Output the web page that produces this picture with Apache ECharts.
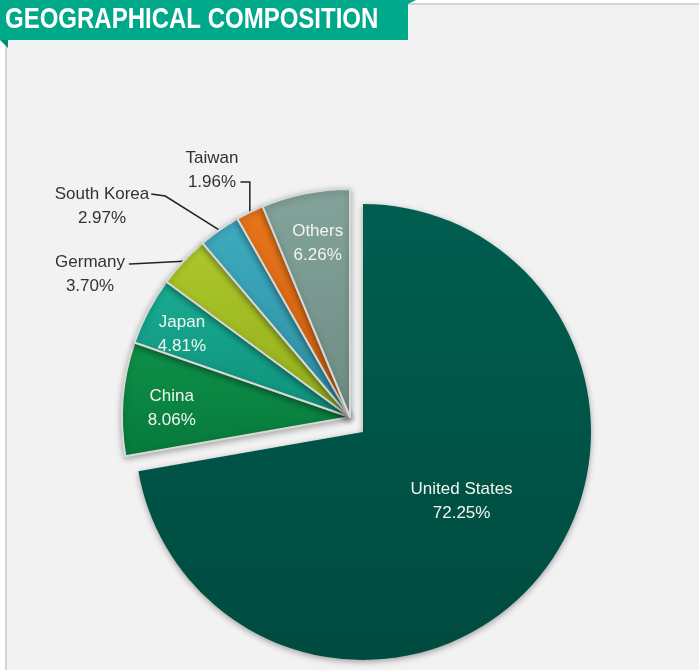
<!DOCTYPE html>
<html>
<head>
<meta charset="utf-8">
<script src="https://cdn.jsdelivr.net/npm/echarts@6/dist/echarts.min.js"></script>
<style>
  html, body { margin: 0; padding: 0; background: #fff; }
  #chart { width: 699px; height: 670px; }
</style>
</head>
<body>
<div id="chart"></div>
<script>
// data
const categories = ['United States', 'China', 'Japan', 'Germany', 'South Korea', 'Taiwan', 'Others']
const shares = [72.25, 8.06, 4.81, 3.70, 2.97, 1.96, 6.26]
const colorsTop = ['#005e50', '#0e9149', '#19ac93', '#adc82b', '#3eabbf', '#e8751b', '#83a39a']
const colorsBottom = ['#004b3f', '#07793b', '#0f907a', '#93ac1c', '#2d8fa2', '#cc5f10', '#6f8c84']
const insideLabels = ['China', 'Japan', 'Others']
const outsideLabels = ['Germany', 'South Korea', 'Taiwan']

const chart = echarts.init(document.getElementById('chart'))

const R = 228
const usCenter = [363, 432]
const groupCenter = [350, 417]
// where the outside labels sit (label centre)
const outsidePos = {
  'Germany': [90, 274],
  'South Korea': [102, 206],
  'Taiwan': [212, 170]
}
// small nudges for the inside labels
const insideNudge = {
  'United States': [9, -6],
  'China': [2, 6],
  'Japan': [-8, 1],
  'Others': [3, 4]
}

function grad(i) {
  return new echarts.graphic.LinearGradient(0, 0, 0, 1, [
    { offset: 0, color: colorsTop[i] },
    { offset: 1, color: colorsBottom[i] }
  ])
}

function fmt(p) {
  return p.name + '\n' + shares[p.dataIndex].toFixed(2) + '%'
}

function nudge(p) {
  const d = insideNudge[categories[p.dataIndex]]
  return d ? { dx: d[0], dy: d[1] } : {}
}

// US slice on its own
const usData = categories.map((name, i) => ({
  name: name,
  value: shares[i],
  itemStyle: i === 0 ? { color: grad(i) } : { color: 'transparent' },
  label: { show: i === 0 }
}))

// the rest, pulled out together
const restData = categories.map((name, i) => ({
  name: name,
  value: shares[i],
  itemStyle: i === 0
    ? { color: 'transparent', borderWidth: 0, shadowBlur: 0 }
    : { color: grad(i) },
  label: { show: outsideLabels.includes(name) },
  labelLine: { show: outsideLabels.includes(name) }
}))

// ring only used to place the inside labels
const ringData = categories.map((name, i) => ({
  name: name,
  value: shares[i],
  itemStyle: { color: 'transparent' },
  label: { show: insideLabels.includes(name) }
}))

const insideLabel = {
  position: 'inside',
  formatter: fmt,
  color: '#f3f6ee',
  fontSize: 17,
  lineHeight: 24,
  fontFamily: '"Liberation Sans", Arial, sans-serif'
}

const option = {
  backgroundColor: '#ffffff',
  animation: false,
  graphic: [
    { type: 'rect', z: -10, shape: { x: 5, y: 3, width: 694, height: 667 }, style: { fill: '#d4d4d4' } },
    { type: 'rect', z: -9, shape: { x: 7, y: 5, width: 692, height: 665 }, style: { fill: '#f2f2f2' } },
    { type: 'polygon', z: 10, shape: { points: [[0, 0], [416, 0], [408, 4], [408, 40], [0, 40]] }, style: { fill: '#00a88a' } },
    { type: 'polygon', z: 10, shape: { points: [[0, 40], [8, 40], [8, 48]] }, style: { fill: '#078c74' } },
    {
      type: 'text', z: 11, x: 5, y: 5,
      scaleX: 0.8,
      style: {
        text: 'GEOGRAPHICAL COMPOSITION',
        fill: '#ffffff',
        font: 'bold 30px "Liberation Sans", Arial, sans-serif'
      }
    }
  ],
  series: [
    {
      type: 'pie',
      silent: true,
      center: usCenter,
      radius: [0, R],
      startAngle: 90,
      clockwise: true,
      data: usData,
      itemStyle: { shadowBlur: 6, shadowColor: 'rgba(0,0,0,0.35)', shadowOffsetY: 2 },
      label: insideLabel,
      labelLine: { show: false },
      labelLayout: nudge
    },
    {
      type: 'pie',
      silent: true,
      center: groupCenter,
      radius: [0, R],
      startAngle: 90,
      clockwise: true,
      data: restData,
      itemStyle: {
        borderColor: '#d6d9d6',
        borderWidth: 2,
        shadowBlur: 6,
        shadowColor: 'rgba(0,0,0,0.3)',
        shadowOffsetY: 2
      },
      label: {
        position: 'outside',
        formatter: fmt,
        color: '#333333',
        fontSize: 17,
        lineHeight: 24,
        align: 'center',
        fontFamily: '"Liberation Sans", Arial, sans-serif'
      },
      labelLine: { lineStyle: { color: '#222', width: 1.5 } },
      labelLayout: function (p) {
        const name = categories[p.dataIndex]
        const pos = outsidePos[name]
        if (!pos || !p.labelLinePoints) return {}
        const w = p.labelRect.width
        const h = p.labelRect.height
        const edge = p.labelLinePoints[0]
        let pts
        if (name === 'Taiwan') {
          const ly = pos[1] + h / 4
          const lx = pos[0] + w / 2 + 2
          pts = [edge, [edge[0], ly], [lx, ly]]
        } else if (name === 'South Korea') {
          const ly = pos[1] - h / 4
          const lx = pos[0] + w / 2 + 2
          pts = [edge, [lx + 14, ly + 2], [lx, ly]]
        } else {
          const ly = pos[1] - h / 4 + 2
          const lx = pos[0] + w / 2 + 4
          pts = [edge, [lx + 1, ly], [lx, ly]]
        }
        return {
          x: pos[0],
          y: pos[1],
          align: 'center',
          verticalAlign: 'middle',
          labelLinePoints: pts
        }
      }
    },
    {
      type: 'pie',
      silent: true,
      center: groupCenter,
      radius: [R * 0.56, R],
      startAngle: 90,
      clockwise: true,
      data: ringData,
      label: insideLabel,
      labelLine: { show: false },
      labelLayout: nudge
    }
  ]
}

chart.setOption(option)
</script>
</body>
</html>
